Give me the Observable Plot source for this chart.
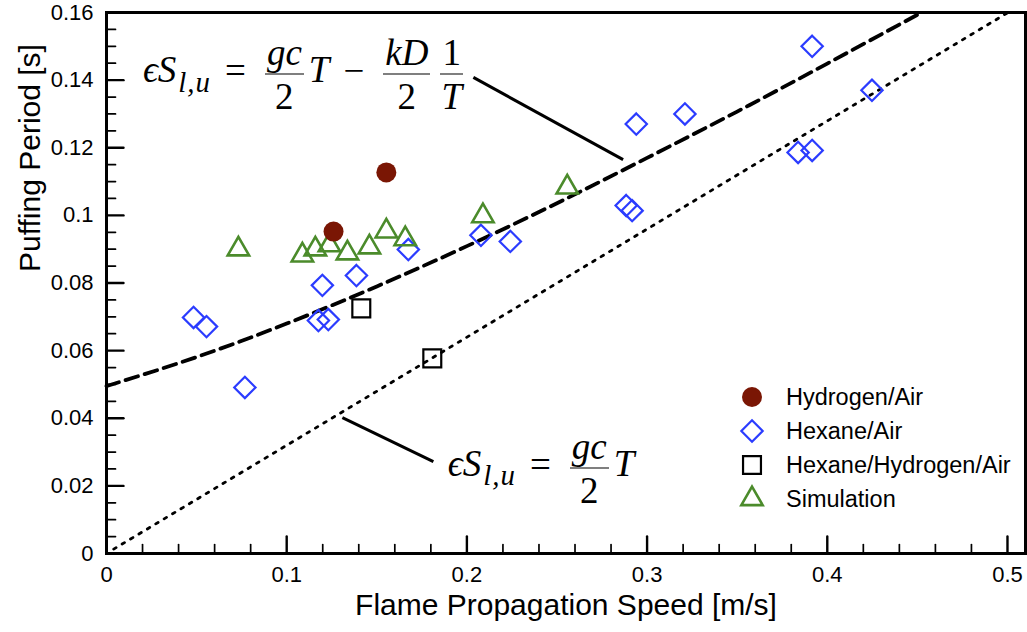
<!DOCTYPE html>
<html><head><meta charset="utf-8">
<script src="https://cdn.jsdelivr.net/npm/d3@7"></script>
<script src="https://cdn.jsdelivr.net/npm/@observablehq/plot@0.6"></script>
<style>
body{margin:0;background:#fff;}
#wrap{position:relative;width:1027px;height:632px;overflow:hidden;}
.eq{position:absolute;font-family:"Liberation Serif","DejaVu Serif",serif;font-size:37px;white-space:nowrap;line-height:1;transform:translateY(-50%);color:#000;}
.eq i{font-style:italic;}
.frac{display:inline-flex;flex-direction:column;align-items:center;vertical-align:middle;margin:0 5px;}
.frac .num{border-bottom:1.8px solid #000;padding:0 2px 3px;}
.frac .den{padding-top:3px;}
.eq sub{font-size:0.78em;vertical-align:-0.3em;margin-left:2px;letter-spacing:1px;}
.op{margin:0 14px;font-style:normal;}
.legend{position:absolute;font-family:"Liberation Sans",Arial,sans-serif;font-size:23.5px;color:#000;}
.legend .row{position:absolute;display:flex;align-items:center;white-space:nowrap;}
</style></head><body><div id="wrap"></div>
<script>
// ---- data ----
const hydrogenX = [0.126, 0.1553];
const hydrogenY = [0.0952, 0.1127];

const hexaneX = [0.0483, 0.0555, 0.0768, 0.1176, 0.1231, 0.1198, 0.1387, 0.1675, 0.2078, 0.2241, 0.2884, 0.2917, 0.294, 0.321, 0.3838, 0.3916, 0.3916, 0.4248];
const hexaneY = [0.0698, 0.0671, 0.0491, 0.0689, 0.0692, 0.0793, 0.0822, 0.0899, 0.0941, 0.0923, 0.1029, 0.1014, 0.127, 0.130, 0.1186, 0.1192, 0.150, 0.137];

const mixX = [0.1414, 0.1808];
const mixY = [0.0725, 0.0577];

const simX = [0.0732, 0.1087, 0.1159, 0.1237, 0.1337, 0.1459, 0.1553, 0.1658, 0.2089, 0.2557];
const simY = [0.0900, 0.0882, 0.0900, 0.0912, 0.0888, 0.0906, 0.0953, 0.0930, 0.0998, 0.1083];

// dashed model curve
const curveX = [0, 0.05, 0.1, 0.15, 0.2, 0.25, 0.3, 0.35, 0.4, 0.453];
const curveY = [0.0495, 0.0581, 0.0680, 0.0790, 0.0909, 0.1036, 0.1170, 0.1307, 0.1449, 0.1602];

// dotted line
const lineX = [0.004, 0.5003];
const lineY = [0.0013, 0.16];

// leader lines [x1, y1, x2, y2]
const leaderTop = [0.2036, 0.1408, 0.2867, 0.1165];
const leaderBottom = [0.1309, 0.0402, 0.1814, 0.0272];

// equation anchors (left edge, vertical middle)
const eqTopAt = [0.0205, 0.1416];
const eqBottomAt = [0.1897, 0.0252];

const xTicks = [0, 0.1, 0.2, 0.3, 0.4, 0.5];
const yTicks = [0, 0.02, 0.04, 0.06, 0.08, 0.1, 0.12, 0.14, 0.16];
const xMinor = d3.range(1, 26).map(i => +(i * 0.02).toFixed(2)).filter(v => Math.abs(v * 10 - Math.round(v * 10)) > 1e-6);
const yMinor = d3.range(1, 32).map(i => +(i * 0.005).toFixed(3)).filter(v => Math.abs(v * 50 - Math.round(v * 50)) > 1e-6);

const seriesNames = ["Hydrogen/Air", "Hexane/Air", "Hexane/Hydrogen/Air", "Simulation"];
const cRed = "#7a1604", cBlue = "#2b3cff", cGreen = "#4b8b2b";

const fmt = d => String(+d.toFixed(3));
const tickShape = {draw(ctx, l) { ctx.moveTo(0, 0); ctx.lineTo(0, -l); }};

const zip = (xs, ys) => xs.map((x, i) => ({x, y: ys[i]}));

const chart = Plot.plot({
  width: 1027, height: 632,
  marginLeft: 106, marginRight: 2, marginTop: 12, marginBottom: 79,
  x: {domain: [0, 0.51]},
  y: {domain: [0, 0.16]},
  style: {fontFamily: "'Liberation Sans', Arial, sans-serif", fontSize: "22px", color: "#000", background: "#fff", overflow: "visible"},
  marks: [
    Plot.axisX({ticks: xTicks, tickSize: 0, tickPadding: 13, tickFormat: fmt, label: null, fontSize: 22}),
    Plot.axisY({ticks: yTicks, tickSize: 0, tickPadding: 13, tickFormat: fmt, label: null, fontSize: 22}),
    Plot.text(["Flame Propagation Speed [m/s]"], {frameAnchor: "bottom", dy: 61, fontSize: 30}),
    Plot.text(["Puffing Period [s]"], {frameAnchor: "left", rotate: -90, dx: -76, dy: -11, fontSize: 30}),
    // ticks inward
    Plot.vector(xTicks, {x: d => d, frameAnchor: "bottom", length: 17, rotate: 0, anchor: "start", shape: tickShape, strokeWidth: 2.4, stroke: "#000"}),
    Plot.vector(xMinor, {x: d => d, frameAnchor: "bottom", length: 9, rotate: 0, anchor: "start", shape: tickShape, strokeWidth: 1.7, stroke: "#000"}),
    Plot.vector(yTicks, {y: d => d, frameAnchor: "left", length: 17, rotate: 90, anchor: "start", shape: tickShape, strokeWidth: 2.4, stroke: "#000"}),
    Plot.vector(yMinor, {y: d => d, frameAnchor: "left", length: 9, rotate: 90, anchor: "start", shape: tickShape, strokeWidth: 1.7, stroke: "#000"}),
    // model lines
    Plot.line(zip(lineX, lineY), {x: "x", y: "y", stroke: "#000", strokeWidth: 2.8, strokeDasharray: "2.8,7"}),
    Plot.line(zip(curveX, curveY), {x: "x", y: "y", curve: "natural", stroke: "#000", strokeWidth: 3.8, strokeDasharray: "13,7"}),
    Plot.link([leaderTop, leaderBottom], {x1: d => d[0], y1: d => d[1], x2: d => d[2], y2: d => d[3], stroke: "#000", strokeWidth: 3}),
    // data
    Plot.dot(zip(hexaneX, hexaneY), {x: "x", y: "y", symbol: "diamond2", r: 9.6, stroke: cBlue, strokeWidth: 2.2, fill: "none"}),
    Plot.dot(zip(mixX, mixY), {x: "x", y: "y", symbol: "square2", r: 11.4, stroke: "#000", strokeWidth: 2.2, fill: "none"}),
    Plot.dot(zip(simX, simY), {x: "x", y: "y", symbol: "triangle2", r: 10.2, stroke: cGreen, strokeWidth: 2.6, fill: "none"}),
    Plot.dot(zip(hydrogenX, hydrogenY), {x: "x", y: "y", symbol: "circle", r: 10, fill: cRed, stroke: "none"}),
    Plot.frame({stroke: "#000", strokeWidth: 3})
  ]
});

const wrap = document.getElementById("wrap");
wrap.appendChild(chart);
const sx = chart.scale("x"), sy = chart.scale("y");

function frac(num, den) {
  return `<span class="frac"><span class="num">${num}</span><span class="den">${den}</span></span>`;
}
const lhs = `<i>ϵS</i><sub><i>l,u</i></sub><span class="op">=</span>`;
const eq1 = lhs + frac("<i>gc</i>", "2") + `<i>T</i><span class="op">−</span>` + frac("<i>kD</i>", "2") + frac("1", "<i>T</i>");
const eq2 = lhs + frac("<i>gc</i>", "2") + `<i>T</i>`;

for (const [html, at] of [[eq1, eqTopAt], [eq2, eqBottomAt]]) {
  const d = document.createElement("div");
  d.className = "eq";
  d.innerHTML = html;
  d.style.left = sx.apply(at[0]) + "px";
  d.style.top = sy.apply(at[1]) + "px";
  wrap.appendChild(d);
}

// legend
const legendSymbols = [
  {type: d3.symbolCircle, r: 10, fill: cRed, stroke: "none", sw: 0},
  {type: d3.symbolDiamond2, r: 9.6, fill: "none", stroke: cBlue, sw: 2.2},
  {type: d3.symbolSquare2, r: 11.4, fill: "none", stroke: "#000", sw: 2.2},
  {type: d3.symbolTriangle2, r: 10.2, fill: "none", stroke: cGreen, sw: 2.6}
];
const legend = document.createElement("div");
legend.className = "legend";
legend.style.left = "0px"; legend.style.top = "0px";
seriesNames.forEach((name, i) => {
  const s = legendSymbols[i];
  const row = document.createElement("div");
  row.className = "row";
  row.style.left = (752 - 14) + "px";
  row.style.top = (397 + i * 34 - 14) + "px";
  row.style.height = "28px";
  const path = d3.symbol(s.type, Math.PI * s.r * s.r)();
  row.innerHTML = `<svg width="28" height="28" viewBox="-14 -14 28 28" style="overflow:visible"><path d="${path}" fill="${s.fill}" stroke="${s.stroke}" stroke-width="${s.sw}"/></svg><span style="margin-left:20px">${name}</span>`;
  legend.appendChild(row);
});
wrap.appendChild(legend);
</script></body></html>
